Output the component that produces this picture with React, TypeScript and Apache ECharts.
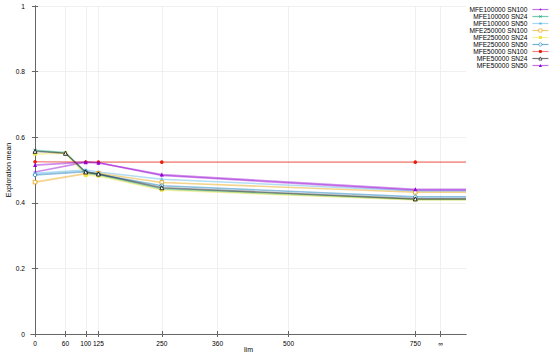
import React, { useEffect, useRef } from 'react';
import * as echarts from 'echarts';

const xTicks = [0, 60, 100, 125, 250, 360, 500, 750, 800];

const seriesNames = [
  'MFE100000 SN100',
  'MFE100000 SN24',
  'MFE100000 SN50',
  'MFE250000 SN100',
  'MFE250000 SN24',
  'MFE250000 SN50',
  'MFE50000 SN100',
  'MFE50000 SN24',
  'MFE50000 SN50',
];

const limShort = [0, 100, 125, 250, 750, 850];
const limLong = [0, 60, 100, 125, 250, 750, 850];

const mfe100kSn100 = [0.494, 0.524, 0.522, 0.483, 0.438, 0.438];
const mfe100kSn24 = [0.560, 0.553, 0.490, 0.485, 0.442, 0.410, 0.410];
const mfe100kSn50 = [0.490, 0.500, 0.494, 0.472, 0.436, 0.436];
const mfe250kSn100 = [0.463, 0.489, 0.490, 0.462, 0.432, 0.432];
const mfe250kSn24 = [0.549, 0.551, 0.484, 0.482, 0.439, 0.409, 0.409];
const mfe250kSn50 = [0.485, 0.495, 0.487, 0.452, 0.418, 0.418];
const mfe50kSn100 = [0.525, 0.524, 0.524, 0.524, 0.524, 0.524];
const mfe50kSn24 = [0.557, 0.551, 0.494, 0.488, 0.446, 0.412, 0.412];
const mfe50kSn50 = [0.515, 0.524, 0.522, 0.486, 0.441, 0.441];

const colors = ['#9400d3', '#009e73', '#56b4e9', '#e69f00', '#f0e442', '#0072b2', '#e51e10', '#000000', '#9400d3'];

const PLUS = 'path://M4.4,0h1.2v10h-1.2zM0,4.4h10v1.2h-10z';
const CROSS = 'path://M1,0L5,4L9,0L10,1L6,5L10,9L9,10L5,6L1,10L0,9L4,5L0,1Z';
const STAR = 'path://M4.5,0h1v10h-1zM0,4.5h10v1h-10zM1.5,0.8L9.2,8.5L8.5,9.2L0.8,1.5zM8.5,0.8L9.2,1.5L1.5,9.2L0.8,8.5z';

const seriesValues = [mfe100kSn100, mfe100kSn24, mfe100kSn50, mfe250kSn100, mfe250kSn24, mfe250kSn50, mfe50kSn100, mfe50kSn24, mfe50kSn50];
const seriesLims = [limShort, limLong, limShort, limShort, limLong, limShort, limShort, limLong, limShort];
const symbols = [PLUS, CROSS, STAR, 'rect', 'rect', 'circle', 'circle', 'triangle', 'triangle'];
const hollow = [false, false, false, true, false, true, false, true, false];

const FONT = 'Liberation Sans, Arial, sans-serif';

export default function App() {
  const ref = useRef<HTMLDivElement>(null);
  useEffect(() => {
    if (!ref.current) return;
    const chart = echarts.init(ref.current, null, { renderer: 'svg' });
    const series = seriesNames.map((name, i) => {
      const lims = seriesLims[i];
      const vals = seriesValues[i];
      const data = lims.map((x, j) => {
        const item: any = { value: [x, vals[j]] };
        if (x === 850) item.symbol = 'none';
        return item;
      });
      return {
        name,
        type: 'line',
        data,
        symbol: symbols[i],
        symbolSize: symbols[i] === 'triangle' ? 4 : 3.6,
        showSymbol: true,
        clip: true,
        z: 2 + i,
        lineStyle: { color: colors[i], width: 1.6, opacity: 0.45 },
        itemStyle: hollow[i]
          ? { color: '#ffffff', borderColor: colors[i], borderWidth: 0.8 }
          : { color: colors[i], borderWidth: 0 },
        emphasis: { disabled: true },
      };
    });
    const gridLine = { show: true, lineStyle: { color: '#ececec', width: 0.8 } };
    chart.setOption({
      animation: false,
      backgroundColor: '#ffffff',
      textStyle: { fontFamily: FONT },
      grid: { left: 31, right: 84, top: 6, bottom: 23, containLabel: false, outerBoundsMode: 'none' },
      legend: {
        orient: 'vertical',
        right: 1,
        top: 6,
        padding: 0,
        align: 'right',
        itemWidth: 16,
        itemHeight: 4,
        itemGap: 0,
        itemStyle: { borderWidth: 0.6 },
        lineStyle: { width: 1.2, opacity: 0.55 },
        textStyle: { fontSize: 6.6, lineHeight: 6.3, color: '#000', fontFamily: FONT, padding: [0, 0, 0, 0] },
        data: seriesNames,
      },
      xAxis: [
        {
          type: 'value',
          min: -8,
          max: 850,
          name: 'lim',
          nameLocation: 'middle',
          nameGap: 12,
          nameMoveOverlap: false,
          nameTextStyle: { fontSize: 7, color: '#000', fontFamily: FONT },
          axisLine: { show: true, lineStyle: { color: '#666', width: 1 } },
          axisTick: { show: true, inside: true, length: 3, customValues: xTicks, lineStyle: { color: '#666' } },
          axisLabel: {
            customValues: xTicks,
            fontSize: 6.6,
            color: '#000',
            margin: 6,
            fontFamily: FONT,
            formatter: (v: number) => (v === 800 ? '∞' : String(v)),
          },
          splitLine: gridLine,
        },
        {
          type: 'value',
          position: 'top',
          min: -8,
          max: 850,
          axisLine: { show: true, lineStyle: { color: '#666', width: 1 } },
          axisTick: { show: true, inside: true, length: 3, customValues: xTicks, lineStyle: { color: '#666' } },
          axisLabel: { show: false },
          splitLine: { show: false },
        },
      ],
      yAxis: [
        {
          type: 'value',
          min: 0,
          max: 1,
          interval: 0.2,
          name: 'Exploration mean',
          nameLocation: 'middle',
          nameGap: 19,
          nameMoveOverlap: false,
          nameTextStyle: { fontSize: 7, color: '#000', fontFamily: FONT },
          axisLine: { show: true, lineStyle: { color: '#666', width: 1 } },
          axisTick: { show: true, inside: true, length: 3, lineStyle: { color: '#666' } },
          axisLabel: {
            fontSize: 6.6,
            color: '#000',
            margin: 6,
            fontFamily: FONT,
            formatter: (v: number) => String(Math.round(v * 10) / 10),
          },
          splitLine: gridLine,
        },
        {
          type: 'value',
          position: 'right',
          min: 0,
          max: 1,
          interval: 0.2,
          axisLine: { show: true, lineStyle: { color: '#666', width: 1 } },
          axisTick: { show: true, inside: true, length: 3, lineStyle: { color: '#666' } },
          axisLabel: { show: false },
          splitLine: { show: false },
        },
      ],
      series,
    });
    return () => chart.dispose();
  }, []);
  return (
    <div
      ref={ref}
      style={{ position: 'fixed', left: 0, top: 0, width: 550, height: 357, background: '#fff' }}
    />
  );
}
